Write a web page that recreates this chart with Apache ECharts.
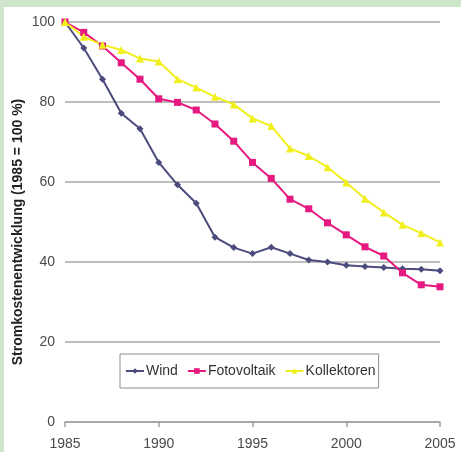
<!DOCTYPE html>
<html>
<head>
<meta charset="utf-8">
<script src="https://cdn.jsdelivr.net/npm/echarts@6/dist/echarts.min.js"></script>
<style>
html,body{margin:0;padding:0;background:#cde6c9;width:461px;height:452px;overflow:hidden;}
#chart{position:absolute;left:4px;top:7px;width:457px;height:445px;background:#fff;}
</style>
</head>
<body>
<div id="chart"></div>
<script>
const years = [1985,1986,1987,1988,1989,1990,1991,1992,1993,1994,1995,1996,1997,1998,1999,2000,2001,2002,2003,2004,2005];
const wind = [100,93.5,85.7,77.2,73.3,64.9,59.3,54.7,46.2,43.6,42.1,43.7,42.1,40.5,40.0,39.2,38.9,38.6,38.3,38.2,37.8];
const fotovoltaik = [100,97.4,94.0,89.8,85.7,80.8,79.9,78.0,74.5,70.2,64.9,60.9,55.7,53.3,49.8,46.8,43.8,41.5,37.3,34.3,33.8];
const kollektoren = [100,96.3,94.3,93.0,90.9,90.1,85.7,83.6,81.3,79.4,75.9,74.0,68.4,66.5,63.7,59.9,55.8,52.4,49.3,47.2,44.9];
const seriesNames = ['Wind','Fotovoltaik','Kollektoren'];
const yTitle = 'Stromkostenentwicklung (1985 = 100 %)';

const pair = arr => years.map((y,i)=>[y,arr[i]]);
const chart = echarts.init(document.getElementById('chart'), null, {renderer:'canvas'});
const font = 'Liberation Sans, Arial, sans-serif';
chart.setOption({
  animation:false,
  backgroundColor:'#fff',
  grid:{left:61,right:21,top:15,bottom:30,outerBoundsMode:'none',containLabel:false},
  legend:{
    data:seriesNames,
    left:116, top:347,
    orient:'horizontal',
    borderColor:'#8c8c8c', borderWidth:1,
    padding:[10,3,10,5],
    itemGap:9, itemWidth:18, itemHeight:7,
    textStyle:{fontFamily:font,fontSize:14,color:'#333',padding:[0,0,0,-3]}
  },
  xAxis:{
    type:'value', min:1985, max:2005, interval:5,
    axisLine:{show:true,lineStyle:{color:'#a0a0a0',width:1.5}},
    axisTick:{show:true,length:5,lineStyle:{color:'#a0a0a0',width:1.5}},
    splitLine:{show:false},
    axisLabel:{fontFamily:font,fontSize:14,color:'#4a4a4a',margin:15,formatter:v=>String(v)}
  },
  yAxis:{
    type:'value', min:0, max:100, interval:20,
    name:yTitle, nameLocation:'middle', nameGap:40, nameMoveOverlap:false,
    nameTextStyle:{fontFamily:font,fontSize:14,fontWeight:'bold',color:'#222',padding:[0,20,0,0]},
    axisLine:{show:false}, axisTick:{show:false},
    splitLine:{show:true,lineStyle:{color:'#a8a8a8',width:1.5}},
    axisLabel:{fontFamily:font,fontSize:14,color:'#4a4a4a',margin:10}
  },
  series:[
    {name:seriesNames[0],type:'line',data:pair(wind),color:'#4b4b7d',symbol:'diamond',symbolSize:7,lineStyle:{width:2},itemStyle:{color:'#4b4b7d'}},
    {name:seriesNames[1],type:'line',data:pair(fotovoltaik),color:'#e5197f',symbol:'rect',symbolSize:7,lineStyle:{width:2},itemStyle:{color:'#e5197f'}},
    {name:seriesNames[2],type:'line',data:pair(kollektoren),color:'#f2ef1e',symbol:'triangle',symbolSize:8,lineStyle:{width:2},itemStyle:{color:'#f2ef1e'}}
  ]
});
</script>
</body>
</html>
